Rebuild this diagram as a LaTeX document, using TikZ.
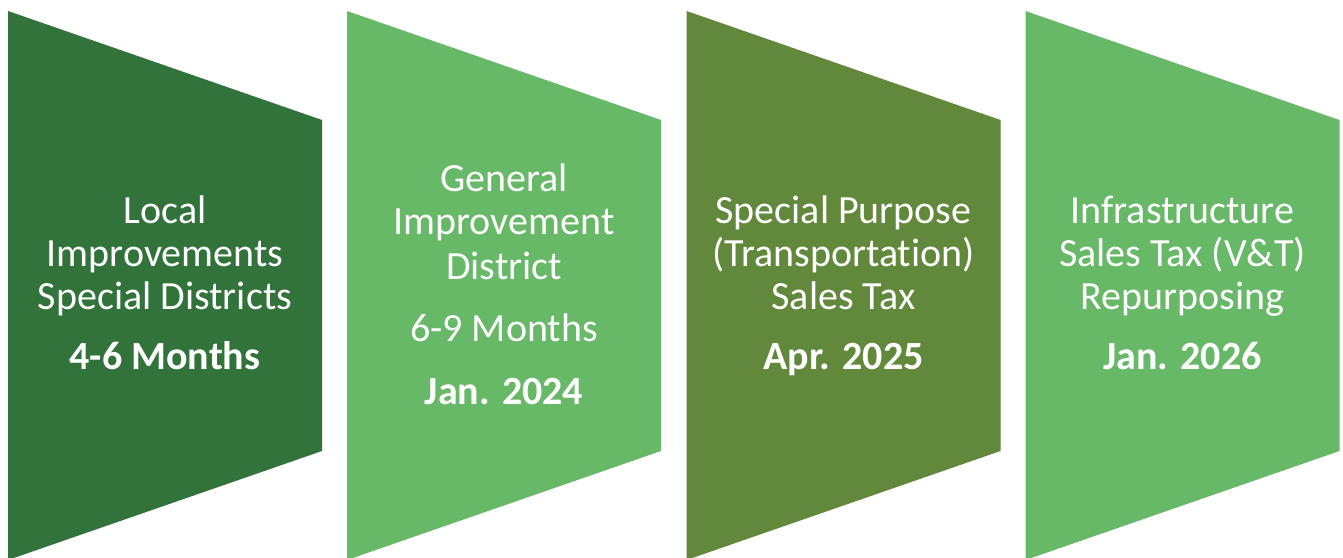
\documentclass[tikz,border=0pt]{standalone}
\usepackage{fontspec}
\setmainfont{Carlito}[Ligatures={NoCommon}]
\definecolor{gdark}{HTML}{31733A}
\definecolor{glight}{HTML}{67B867}
\definecolor{golive}{HTML}{62883C}
\begin{document}
\begin{tikzpicture}[x=1pt,y=1pt,
  lbl/.style={anchor=base,inner sep=0pt,text=white,font=\fontsize{40}{44}\selectfont},
  lblb/.style={lbl,font=\fontsize{40}{44}\selectfont\bfseries}]
\useasboundingbox (0,0) rectangle (1343,557);
% shapes
\foreach \x/\c in {8/gdark,347/glight,686.5/golive,1025.5/glight}{
  \fill[\c] (\x,546) -- (\x+314,437) -- (\x+314,106) -- (\x,-3) -- cycle;
}
% shape 1
\node[lbl]  (a1) at (165,333) {Local};
\node[lbl]  (a2) at (165,290) {Improvements};
\node[lbl]  (a3) at (165,247) {Special Districts};
\node[lblb] (a4) at (165,187) {4-6 Months};
% shape 2
\node[lbl]  (b1) at (504,365) {General};
\node[lbl]  (b2) at (504,322) {Improvement};
\node[lbl]  (b3) at (504,277) {District};
\node[lbl]  (b4) at (504,215) {6-9 Months};
\node[lblb] (b5) at (504,153) {Jan. 2024};
% shape 3
\node[lbl]  (c1) at (843.5,333) {Special Purpose};
\node[lbl]  (c2) at (843.5,290) {(Transportation)};
\node[lbl]  (c3) at (843.5,247) {Sales Tax};
\node[lblb] (c4) at (843.5,187) {Apr. 2025};
% shape 4
\node[lbl]  (d1) at (1182.5,333) {Infrastructure};
\node[lbl]  (d2) at (1182.5,290) {Sales Tax (V\&T)};
\node[lbl]  (d3) at (1182.5,247) {Repurposing};
\node[lblb] (d4) at (1182.5,187) {Jan. 2026};
\end{tikzpicture}
\end{document}
